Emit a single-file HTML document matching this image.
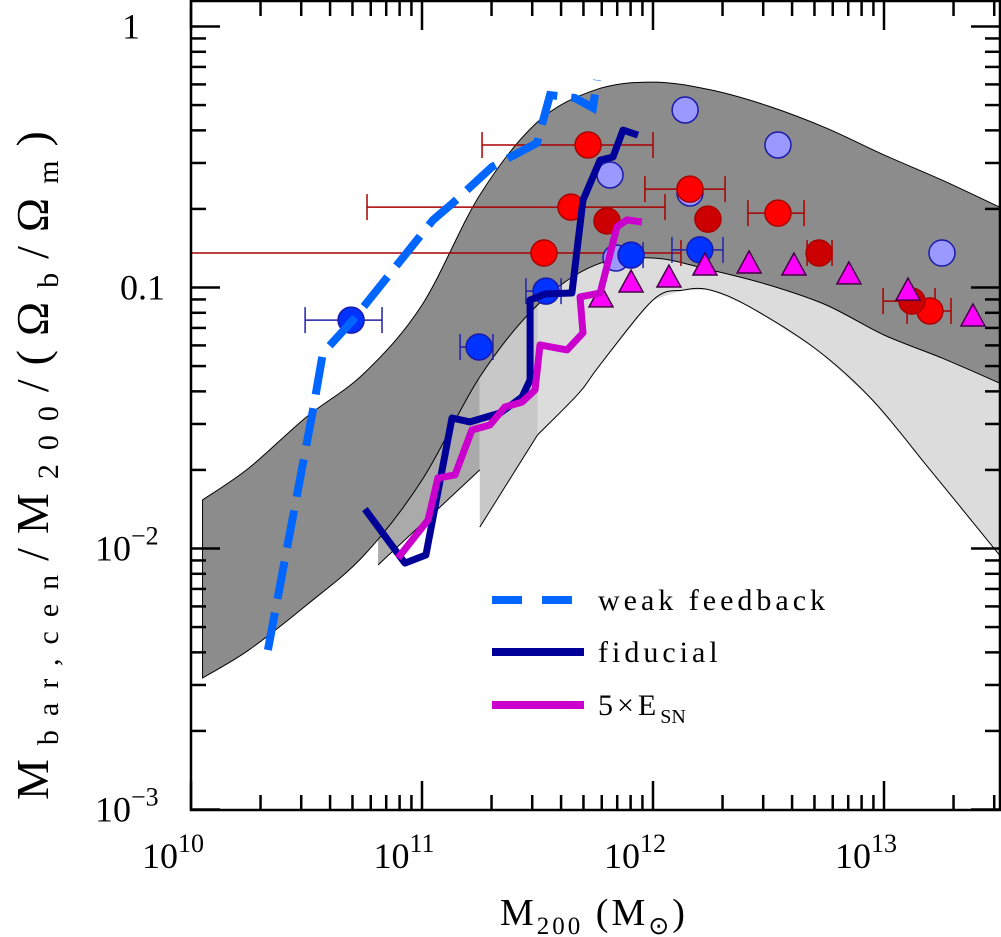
<!DOCTYPE html>
<html><head><meta charset="utf-8"><style>
body{margin:0;background:#fff}
svg{display:block}
text{font-family:"Liberation Serif",serif;fill:#000}
</style></head><body>
<svg id="chart" width="1001" height="937" viewBox="0 0 1001 937" xmlns="http://www.w3.org/2000/svg"></svg>
<script>
// ---- data (log10 M200, log10 fraction) ----
const bandX=[10.05,10.25,10.5,10.75,11,11.25,11.5,11.75,12,12.25,12.5,12.75,13,13.25,13.5];
const bandUpper=[-1.814,-1.692,-1.496,-1.328,-1.067,-0.646,-0.366,-0.243,-0.213,-0.243,-0.305,-0.389,-0.492,-0.588,-0.692];
const bandLower=[-2.496,-2.389,-2.217,-2.025,-1.738,-1.343,-1.067,-0.914,-0.887,-0.933,-0.990,-1.067,-1.182,-1.270,-1.366];
const strip1X=[10.81,11.25], strip1Low=[-2.063,-1.699];
const strip2X=[11.25,11.5], strip2Low=[-1.918,-1.565];
const lightX=[11.5,11.68,11.77,12.0,12.13,12.25,12.42,12.71,12.95,13.2,13.5];
const lightLow=[-1.565,-1.404,-1.297,-1.048,-1.010,-1.010,-1.075,-1.239,-1.431,-1.699,-2.025];

const weakX=[10.333,10.528,10.571,10.701,10.961,11.048,11.134,11.303,11.498,11.554,11.662,11.740,11.758];
const weakY=[-2.389,-1.469,-1.251,-1.125,-0.837,-0.741,-0.676,-0.538,-0.446,-0.263,-0.274,-0.312,-0.205];
const fidX=[10.753,10.926,11.017,11.130,11.208,11.338,11.433,11.468,11.468,11.532,11.649,11.697,11.771,11.827,11.870,11.935];
const fidY=[-1.849,-2.056,-2.025,-1.500,-1.515,-1.481,-1.420,-1.354,-1.048,-1.025,-1.021,-0.665,-0.512,-0.500,-0.397,-0.416];
const snX=[10.896,11.026,11.069,11.143,11.216,11.294,11.359,11.433,11.489,11.511,11.628,11.697,11.684,11.771,11.844,11.887,11.952];
const snY=[-2.036,-1.891,-1.730,-1.718,-1.546,-1.527,-1.458,-1.439,-1.393,-1.220,-1.239,-1.174,-1.036,-1.021,-0.768,-0.741,-0.749];

const lbX=[12.139,12.541,13.251,11.814,11.840,12.160];
const lbY=[-0.320,-0.454,-0.868,-0.569,-0.887,-0.638];
const bX=[10.693,11.247,11.537,11.905,12.203];
const bY=[-1.125,-1.228,-1.014,-0.876,-0.856];
const bLo=[10.494,11.165,11.450,11.823,12.082];
const bHi=[10.827,11.307,11.602,11.957,12.303];
const rX=[11.719,11.645,11.528,12.160,12.541,13.199];
const rY=[-0.454,-0.692,-0.868,-0.623,-0.715,-1.090];
const rLo=[11.260,10.762,10.0,11.965,12.411,13.100];
const rHi=[12.000,12.052,12.121,12.312,12.654,13.290];
const drX=[11.801,12.238,12.719,13.121];
const drY=[-0.745,-0.738,-0.868,-1.052];
const drLo=[null,null,12.667,12.996];
const drHi=[null,null,12.775,13.221];
const triX=[11.775,11.905,12.069,12.225,12.416,12.610,12.848,13.104,13.385];
const triY=[-1.036,-0.979,-0.960,-0.914,-0.906,-0.914,-0.948,-1.010,-1.109];
const xTickLabels=["10","11","12","13"];
const yTickLabels=["1","0.1","10","10"];

// ---- axes ----
const L=191,R=1000,T=1,B=810;
function sx(lm){return L+231*(lm-10);}
function sy(lf){return 26.5-261*lf;}
const NS="http://www.w3.org/2000/svg";
const svg=document.getElementById('chart');
function el(tag,attrs,parent){const e=document.createElementNS(NS,tag);for(const k in attrs)e.setAttribute(k,attrs[k]);(parent||svg).appendChild(e);return e;}
function interp(xs,ys,x){for(let i=0;i<xs.length-1;i++){if(x>=xs[i]&&x<=xs[i+1]){return ys[i]+(ys[i+1]-ys[i])*(x-xs[i])/(xs[i+1]-xs[i]);}}return x<xs[0]?ys[0]:ys[ys.length-1];}
function pts(xs,ys){return xs.map((x,i)=>sx(x).toFixed(1)+','+sy(ys[i]).toFixed(1)).join(' ');}
function smooth(xs,ys){
  const P=xs.map((x,i)=>[sx(x),sy(ys[i])]);
  let d='M'+P[0][0]+','+P[0][1];
  for(let i=0;i<P.length-1;i++){
    const p0=P[i-1]||P[i],p1=P[i],p2=P[i+1],p3=P[i+2]||P[i+1];
    const c1=[p1[0]+(p2[0]-p0[0])/6,p1[1]+(p2[1]-p0[1])/6];
    const c2=[p2[0]-(p3[0]-p1[0])/6,p2[1]-(p3[1]-p1[1])/6];
    d+=' C'+c1.join(',')+' '+c2.join(',')+' '+p2.join(',');
  }
  return d;
}

function region(xs,lows,fill,name){
  const top=[];const n=12;
  for(let i=0;i<=n;i++){const x=xs[0]+(xs[xs.length-1]-xs[0])*i/n;top.push(sx(x).toFixed(1)+','+sy(interp(bandX,bandLower,x)+0.05).toFixed(1));}
  const bot=xs.slice().reverse().map((x,i)=>sx(x).toFixed(1)+','+sy(lows[xs.length-1-i]).toFixed(1));
  const p=el('polygon',{points:top.concat(bot).join(' '),fill:fill,stroke:'none'});
  
  
}
region(lightX,lightLow,'#dcdcdc','light-band');
region(strip1X,strip1Low,'#aaaaaa','strip-low-mass');
region(strip2X,strip2Low,'#c8c8c8','strip-mid-mass');
const ll=el('path',{d:smooth(lightX,lightLow),fill:'none',stroke:'#000','stroke-width':1});


const ll2=el('polyline',{points:pts(strip1X,strip1Low),fill:'none',stroke:'#000','stroke-width':1});


const ll3=el('polyline',{points:pts(strip2X,strip2Low),fill:'none',stroke:'#000','stroke-width':1});



const up=smooth(bandX,bandUpper);
const lo=smooth(bandX.slice().reverse(),bandLower.slice().reverse()).replace(/^M/,'L');
const band=el('path',{d:up+' '+lo+' Z',fill:'#8c8c8c',stroke:'#000','stroke-width':1});



function ebar(x,y,lo,hi,col,name){
  if(lo==null)return;
  const g=el('g',{stroke:col,'stroke-width':1.5});
  
  
  el('line',{x1:sx(lo),x2:sx(hi),y1:sy(y),y2:sy(y)},g);
  if(lo>10)el('line',{x1:sx(lo),x2:sx(lo),y1:sy(y)-13,y2:sy(y)+13},g);
  el('line',{x1:sx(hi),x2:sx(hi),y1:sy(y)-13,y2:sy(y)+13},g);
}
rX.forEach((x,i)=>ebar(x,rY[i],rLo[i],rHi[i],'#aa0000','red-error-bar'));
drX.forEach((x,i)=>ebar(x,drY[i],drLo[i],drHi[i],'#aa0000','darkred-error-bar'));
bX.forEach((x,i)=>ebar(x,bY[i],bLo[i],bHi[i],'#2222aa','blue-error-bar'));

function circ(x,y,fill,stroke,name){
  const c=el('circle',{cx:sx(x),cy:sy(y),r:13,fill:fill,stroke:stroke,'stroke-width':1.5});
  
  
}
lbX.forEach((x,i)=>circ(x,lbY[i],'#9999ff','#1a1aaa','lightblue-point'));
bX.forEach((x,i)=>circ(x,bY[i],'#0033ff','#1a1aaa','blue-point'));
rX.forEach((x,i)=>circ(x,rY[i],'#ff0000','#aa0000','red-point'));
drX.forEach((x,i)=>circ(x,drY[i],'#cc0000','#aa0000','darkred-point'));
triX.forEach((x,i)=>{
  const cx=sx(x),cy=sy(triY[i]);
  const t=el('polygon',{points:`${cx-12},${cy+10} ${cx+12},${cy+10} ${cx},${cy-12}`,fill:'#ff00ff',stroke:'#440044','stroke-width':1.5});
  
  
});

const w=el('polyline',{points:pts(weakX,weakY),fill:'none',stroke:'#0066ff','stroke-width':8,'stroke-dasharray':'38 14'});


const f=el('polyline',{points:pts(fidX,fidY),fill:'none',stroke:'#000099','stroke-width':7,'stroke-linejoin':'round'});


const s=el('polyline',{points:pts(snX,snY),fill:'none',stroke:'#cc00cc','stroke-width':7,'stroke-linejoin':'round'});



const fr=el('rect',{x:L,y:T,width:R-L,height:B-T,fill:'none',stroke:'#000','stroke-width':2.5});


const tk=el('g',{stroke:'#000','stroke-width':2.5});


for(let d=10;d<=13;d++){for(let m=1;m<=9;m++){const lx=d+Math.log10(m);if(lx>13.5)continue;const px=sx(lx);const len=m==1?29:15;
  el('line',{x1:px,x2:px,y1:B,y2:B-len},tk);el('line',{x1:px,x2:px,y1:T,y2:T+len},tk);}}
for(let d=-3;d<=0;d++){for(let m=1;m<=9;m++){const lf=d+Math.log10(m);if(lf>0.08)continue;const py=sy(lf);const len=m==1?29:15;
  el('line',{x1:L,x2:L+len,y1:py,y2:py},tk);el('line',{x1:R,x2:R-len,y1:py,y2:py},tk);}}

xTickLabels.forEach((e,i)=>{
  const t=el('text',{x:sx(10+i)-18,y:868,'font-size':36,'text-anchor':'middle'});
  
  
  t.textContent='10';
  const sup=el('tspan',{dy:-16,'font-size':26},t);sup.textContent=e;
});
[0,-1,-2,-3].forEach((d,i)=>{
  const t=el('text',{x:d==0?140:165,y:sy(d)+12,'font-size':36,'text-anchor':'end'});
  
  
  if(d>=-1){t.textContent=yTickLabels[i];}
  else{t.setAttribute('x',95);t.setAttribute('text-anchor','start');t.textContent=yTickLabels[i];
    const sup=el('tspan',{dy:-16,'font-size':26},t);sup.textContent='−'+(-d);}
});

const xt=el('text',{x:500,y:925,'font-size':38,'letter-spacing':3});


xt.innerHTML='M<tspan font-size="25" dy="9">200</tspan><tspan dy="-9"> (M</tspan><tspan font-size="25" dy="9">⊙</tspan><tspan dy="-9">)</tspan>';
const yt=el('text',{x:0,y:0,'font-size':46,'letter-spacing':14,transform:'translate(48,800) rotate(-90)'});


yt.innerHTML='M<tspan font-size="30" dy="10">bar,cen</tspan><tspan dy="-10">/M</tspan><tspan font-size="30" dy="10">200</tspan><tspan dy="-10">/(Ω</tspan><tspan font-size="30" dy="10">b</tspan><tspan dy="-10">/Ω</tspan><tspan font-size="30" dy="10">m</tspan><tspan dy="-10">)</tspan>';

const lg=el('g',{});


const legendItems=[["weak feedback",'#0066ff','38 14',600],["fiducial",'#000099',null,652],["5×E",'#cc00cc',null,705]];
legendItems.forEach(it=>{
  const a={x1:492,x2:584,y1:it[3],y2:it[3],stroke:it[1],'stroke-width':8};
  if(it[2])a['stroke-dasharray']='30 20';
  const ln=el('line',a,lg);
  
  
  const t=el('text',{x:598,y:it[3]+10,'font-size':30,'letter-spacing':4},lg);
  
  
  t.textContent=it[0];
  if(it[0]=="5×E"){const sub=el('tspan',{dy:8,'font-size':20,'letter-spacing':0},t);sub.textContent='SN';}
});
</script>
</body></html>
